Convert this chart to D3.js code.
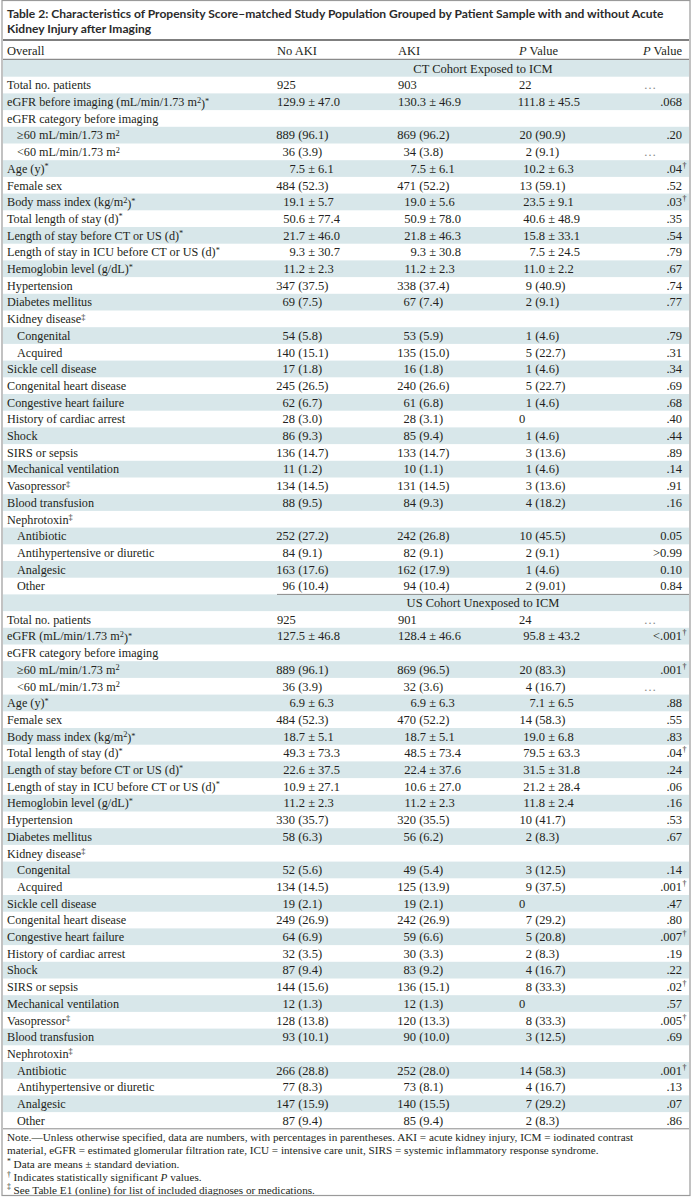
<!DOCTYPE html>
<html>
<head>
<meta charset="utf-8">
<script src="https://cdn.jsdelivr.net/npm/d3@7"></script>
<style>
body { margin: 0; background: #fff; }
svg text { font-family: "Liberation Serif", "DejaVu Serif", serif; fill: #231f20; }
</style>
</head>
<body>
<svg id="table" width="692" height="1197"></svg>
<script>
var W = 692, H = 1197;

var titleLines = [
    "Table 2: Characteristics of Propensity Score\u2013matched Study Population Grouped by Patient Sample with and without Acute",
    "Kidney Injury after Imaging"
];
var headers = ["Overall", "No AKI", "AKI", "P Value", "P Value"];
var cohorts = ["CT Cohort Exposed to ICM", "US Cohort Unexposed to ICM"];

// "^x" marks a superscript character
var ctLabels = ["Total no. patients", "eGFR before imaging (mL/min/1.73 m^2)^*", "eGFR category before imaging",
    "\u226560 mL/min/1.73 m^2", "<60 mL/min/1.73 m^2", "Age (y)^*", "Female sex", "Body mass index (kg/m^2)^*",
    "Total length of stay (d)^*", "Length of stay before CT or US (d)^*", "Length of stay in ICU before CT or US (d)^*",
    "Hemoglobin level (g/dL)^*", "Hypertension", "Diabetes mellitus", "Kidney disease^\u2021", "Congenital", "Acquired",
    "Sickle cell disease", "Congenital heart disease", "Congestive heart failure", "History of cardiac arrest", "Shock",
    "SIRS or sepsis", "Mechanical ventilation", "Vasopressor^\u2021", "Blood transfusion", "Nephrotoxin^\u2021",
    "Antibiotic", "Antihypertensive or diuretic", "Analgesic", "Other"];
var usLabels = ctLabels.slice();
usLabels[1] = "eGFR (mL/min/1.73 m^2)^*";
var indented = [3, 4, 15, 16, 27, 28, 29, 30];

var ctNoAki = ["925", "129.9 \u00b1 47.0", "", "889 (96.1)", "36 (3.9)", "7.5 \u00b1 6.1", "484 (52.3)", "19.1 \u00b1 5.7",
    "50.6 \u00b1 77.4", "21.7 \u00b1 46.0", "9.3 \u00b1 30.7", "11.2 \u00b1 2.3", "347 (37.5)", "69 (7.5)", "", "54 (5.8)",
    "140 (15.1)", "17 (1.8)", "245 (26.5)", "62 (6.7)", "28 (3.0)", "86 (9.3)", "136 (14.7)", "11 (1.2)", "134 (14.5)",
    "88 (9.5)", "", "252 (27.2)", "84 (9.1)", "163 (17.6)", "96 (10.4)"];
var ctAki = ["903", "130.3 \u00b1 46.9", "", "869 (96.2)", "34 (3.8)", "7.5 \u00b1 6.1", "471 (52.2)", "19.0 \u00b1 5.6",
    "50.9 \u00b1 78.0", "21.8 \u00b1 46.3", "9.3 \u00b1 30.8", "11.2 \u00b1 2.3", "338 (37.4)", "67 (7.4)", "", "53 (5.9)",
    "135 (15.0)", "16 (1.8)", "240 (26.6)", "61 (6.8)", "28 (3.1)", "85 (9.4)", "133 (14.7)", "10 (1.1)", "131 (14.5)",
    "84 (9.3)", "", "242 (26.8)", "82 (9.1)", "162 (17.9)", "94 (10.4)"];
var ctThird = ["22", "111.8 \u00b1 45.5", "", "20 (90.9)", "2 (9.1)", "10.2 \u00b1 6.3", "13 (59.1)", "23.5 \u00b1 9.1",
    "40.6 \u00b1 48.9", "15.8 \u00b1 33.1", "7.5 \u00b1 24.5", "11.0 \u00b1 2.2", "9 (40.9)", "2 (9.1)", "", "1 (4.6)",
    "5 (22.7)", "1 (4.6)", "5 (22.7)", "1 (4.6)", "0", "1 (4.6)", "3 (13.6)", "1 (4.6)", "3 (13.6)", "4 (18.2)", "",
    "10 (45.5)", "2 (9.1)", "1 (4.6)", "2 (9.01)"];
var ctP = ["\u2026", ".068", "", ".20", "\u2026", ".04^\u2020", ".52", ".03^\u2020", ".35", ".54", ".79", ".67", ".74", ".77", "",
    ".79", ".31", ".34", ".69", ".68", ".40", ".44", ".89", ".14", ".91", ".16", "", "0.05", ">0.99", "0.10", "0.84"];

var usNoAki = ["925", "127.5 \u00b1 46.8", "", "889 (96.1)", "36 (3.9)", "6.9 \u00b1 6.3", "484 (52.3)", "18.7 \u00b1 5.1",
    "49.3 \u00b1 73.3", "22.6 \u00b1 37.5", "10.9 \u00b1 27.1", "11.2 \u00b1 2.3", "330 (35.7)", "58 (6.3)", "", "52 (5.6)",
    "134 (14.5)", "19 (2.1)", "249 (26.9)", "64 (6.9)", "32 (3.5)", "87 (9.4)", "144 (15.6)", "12 (1.3)", "128 (13.8)",
    "93 (10.1)", "", "266 (28.8)", "77 (8.3)", "147 (15.9)", "87 (9.4)"];
var usAki = ["901", "128.4 \u00b1 46.6", "", "869 (96.5)", "32 (3.6)", "6.9 \u00b1 6.3", "470 (52.2)", "18.7 \u00b1 5.1",
    "48.5 \u00b1 73.4", "22.4 \u00b1 37.6", "10.6 \u00b1 27.0", "11.2 \u00b1 2.3", "320 (35.5)", "56 (6.2)", "", "49 (5.4)",
    "125 (13.9)", "19 (2.1)", "242 (26.9)", "59 (6.6)", "30 (3.3)", "83 (9.2)", "136 (15.1)", "12 (1.3)", "120 (13.3)",
    "90 (10.0)", "", "252 (28.0)", "73 (8.1)", "140 (15.5)", "85 (9.4)"];
var usThird = ["24", "95.8 \u00b1 43.2", "", "20 (83.3)", "4 (16.7)", "7.1 \u00b1 6.5", "14 (58.3)", "19.0 \u00b1 6.8",
    "79.5 \u00b1 63.3", "31.5 \u00b1 31.8", "21.2 \u00b1 28.4", "11.8 \u00b1 2.4", "10 (41.7)", "2 (8.3)", "", "3 (12.5)",
    "9 (37.5)", "0", "7 (29.2)", "5 (20.8)", "2 (8.3)", "4 (16.7)", "8 (33.3)", "0", "8 (33.3)", "3 (12.5)", "",
    "14 (58.3)", "4 (16.7)", "7 (29.2)", "2 (8.3)"];
var usP = ["\u2026", "<.001^\u2020", "", ".001^\u2020", "\u2026", ".88", ".55", ".83", ".04^\u2020", ".24", ".06", ".16", ".53",
    ".67", "", ".14", ".001^\u2020", ".47", ".80", ".007^\u2020", ".19", ".22", ".02^\u2020", ".57", ".005^\u2020", ".69", "",
    ".001^\u2020", ".13", ".07", ".86"];

var notes = [
    "Note.\u2014Unless otherwise specified, data are numbers, with percentages in parentheses. AKI = acute kidney injury, ICM = iodinated contrast",
    "material, eGFR = estimated glomerular filtration rate, ICU = intensive care unit, SIRS = systemic inflammatory response syndrome.",
    "^* Data are means \u00b1 standard deviation.",
    "^\u2020 Indicates statistically significant _P values.",
    "^\u2021 See Table E1 (online) for list of included diagnoses or medications."
];

var sections = [
    {name: cohorts[0], labels: ctLabels, cols: [ctNoAki, ctAki, ctThird], p: ctP},
    {name: cohorts[1], labels: usLabels, cols: [usNoAki, usAki, usThird], p: usP}
];

var BAND = "#d8e7ea", RULE = "#8a8a8a";
var rowH = 16.7, tableTop = 60;
var nRows = ctLabels.length + 1; // banner + rows

var svg = d3.select("#table");

// x positions of the columns
var x = d3.scaleOrdinal()
    .domain(headers.map(function (d, i) { return i; }))
    .range([7, 277, 398, 519, 682]);
var countOff = [18, 18, 13], meanOff = [28, 28, 26];

// section tops and rows inside each section
var secY = d3.scaleLinear().domain([0, 1]).range([tableTop, tableTop + nRows * rowH]);
var rowY = d3.scaleBand().domain(d3.range(nRows)).range([0, nRows * rowH]);

// writes a string with ^x superscripts and _X italics into a text node
function rich(sel, str) {
    var parts = str.split(/([\^_].)/);
    var up = false;
    parts.forEach(function (p) {
        if (!p) return;
        var t = sel.append("tspan");
        if (p[0] == "^") {
            t.text(p[1]).attr("font-size", "0.68em").attr("dy", "-0.42em");
            up = true;
        } else if (p[0] == "_") {
            t.text(p[1]).attr("font-style", "italic");
            if (up) { t.attr("dy", "0.42em"); up = false; }
        } else {
            t.text(p);
            if (up) { t.attr("dy", "0.42em"); up = false; }
        }
    });
}

// title
var title = svg.append("g");
titleLines.forEach(function (s, i) {
    title.append("text")
        .attr("x", 7).attr("y", 18 + i * 15)
        .style("font-family", "Lato, 'Noto Sans', sans-serif")
        .style("font-weight", 700)
        .style("font-size", "11.5px")
        .style("fill", "#2b2b2b")
        .text(s);
});
var t0 = title.select("text").node();
var fit = 11.5 * 657 / t0.getComputedTextLength();
title.selectAll("text").style("font-size", fit + "px");

svg.append("line").attr("x1", 3).attr("x2", 689).attr("y1", 40).attr("y2", 40)
    .attr("stroke", "#555").attr("stroke-width", 1.5);

// header row
var head = svg.append("g").style("font-size", "12.5px");
headers.forEach(function (h, i) {
    var t = head.append("text").attr("x", x(i)).attr("y", 54.5)
        .attr("text-anchor", i == 4 ? "end" : "start");
    if (h == "P Value") {
        t.append("tspan").style("font-style", "italic").text("P");
        t.append("tspan").text(" Value");
    } else t.text(h);
});
svg.append("line").attr("x1", 3).attr("x2", 689).attr("y1", tableTop - 0.5).attr("y2", tableTop - 0.5)
    .attr("stroke", RULE).attr("stroke-width", 1.5);

sections.forEach(function (sec, si) {
    var g = svg.append("g")
        .attr("transform", "translate(0," + secY(si) + ")")
        .style("font-size", "12.5px");

    // banding: banner and every odd data row
    g.selectAll("rect.band")
        .data(d3.range(nRows).filter(function (r) { return r % 2 == 0; }))
        .enter().append("rect")
        .attr("class", "band")
        .attr("x", 3).attr("width", 686)
        .attr("y", function (r) { return rowY(r); })
        .attr("height", rowY.bandwidth())
        .attr("fill", BAND);

    g.append("text")
        .attr("x", (x(1) + 689) / 2)
        .attr("y", rowY(0) + rowH / 2 + 4.3)
        .attr("text-anchor", "middle")
        .text(sec.name);

    sec.labels.forEach(function (lab, i) {
        var y = rowY(i + 1) + rowH / 2 + 4.3;
        var t = g.append("text")
            .attr("x", x(0) + (indented.indexOf(i) >= 0 ? 10 : 0))
            .attr("y", y)
            .style("font-size", "12.2px");
        rich(t, lab);

        sec.cols.forEach(function (col, c) {
            var v = col[i];
            if (!v) return;
            var sp = v.indexOf(" ");
            if (sp < 0) {
                g.append("text").attr("x", x(c + 1)).attr("y", y).text(v);
                return;
            }
            var off = v.indexOf("\u00b1") >= 0 ? meanOff[c] : countOff[c];
            g.append("text").attr("x", x(c + 1) + off).attr("y", y)
                .attr("text-anchor", "end").text(v.slice(0, sp));
            g.append("text").attr("x", x(c + 1) + off).attr("y", y)
                .text("\u00a0" + v.slice(sp + 1));
        });

        var p = sec.p[i];
        if (!p) return;
        if (p == "\u2026") {
            g.append("text").attr("x", 650).attr("y", y).attr("text-anchor", "middle")
                .style("fill", "#888").text(p);
            return;
        }
        var main = p.replace(/\^./, "");
        g.append("text").attr("x", x(4)).attr("y", y).attr("text-anchor", "end").text(main);
        if (p.indexOf("^") >= 0) {
            g.append("text").attr("x", x(4) + 0.5).attr("y", y - 5)
                .style("font-size", "8px").text(p.slice(-1));
        }
    });
});

// rule under CT section (partial) and under whole table
svg.append("line").attr("x1", x(1)).attr("x2", 689).attr("y1", secY(1)).attr("y2", secY(1))
    .attr("stroke", RULE).attr("stroke-width", 1);
var tableBottom = secY(2);
svg.append("line").attr("x1", 3).attr("x2", 689).attr("y1", tableBottom).attr("y2", tableBottom)
    .attr("stroke", RULE).attr("stroke-width", 1);

// footnotes
var foot = svg.append("g").style("font-size", "11.2px");
notes.forEach(function (s, i) {
    var t = foot.append("text").attr("x", 7).attr("y", tableBottom + 12.5 + i * 12.8);
    rich(t, s);
});

// outer frame
svg.append("rect").attr("x", 2).attr("y", 0.5).attr("width", 688).attr("height", H - 2)
    .attr("fill", "none").attr("stroke", "#9a9a9a").attr("stroke-width", 1.2);
</script>
</body>
</html>
